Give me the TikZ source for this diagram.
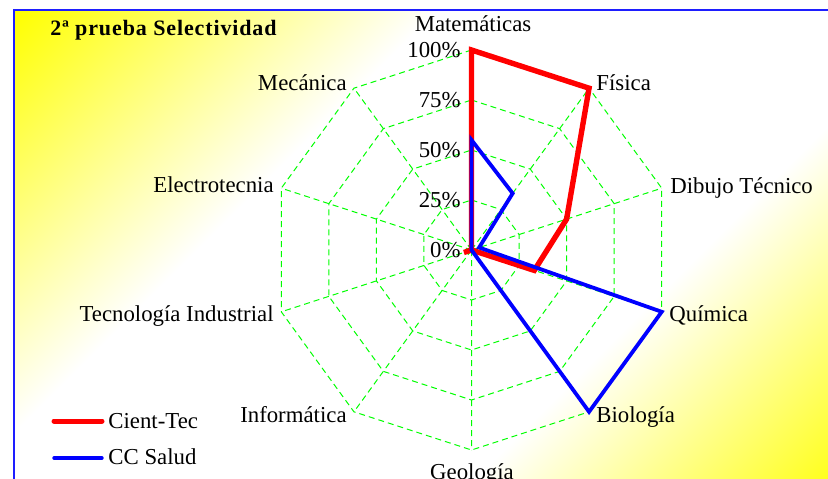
\documentclass[tikz,border=0pt]{standalone}
\usepackage{fontspec}
\setmainfont{Liberation Serif}
\newfontfamily\titlefont[LetterSpace=4]{Liberation Serif}
\usetikzlibrary{positioning}
\usetikzlibrary{calc}
\definecolor{gridgreen}{RGB}{0,255,0}
\definecolor{cienttec}{RGB}{255,0,0}
\definecolor{ccsalud}{RGB}{0,0,255}
\definecolor{frameblue}{RGB}{30,30,255}
\pgfdeclarehorizontalshading{bgdiag}{100bp}{color(0bp)=(yellow); color(14.6bp)=(yellow); color(37bp)=(white); color(64bp)=(white); color(85.4bp)=(yellow); color(100bp)=(yellow)}

\begin{document}
\begin{tikzpicture}[x=0.5pt,y=0.5pt]
\tikzset{axislabel/.style={inner sep=0pt, font=\fontsize{11.4}{13}\selectfont}}
\tikzset{gridline/.style={gridgreen, dash pattern=on 3pt off 2pt, line width=0.5pt}}
\tikzset{cientline/.style={cienttec, line width=2.7pt}}
\tikzset{saludline/.style={ccsalud, line width=1.9pt}}
\useasboundingbox (0,0) rectangle (828,478);
\clip (0,0) rectangle (828,478);
\shade[shading=bgdiag, shading angle=-45] (14,-20) rectangle (860,468);
\draw[frameblue, line width=1pt] (14,-20) -- (14,468) -- (860,468);
\coordinate (c) at (471.5,228);
\foreach \i in {0,...,9} {
  \coordinate (v\i) at ($(c)+(90-36*\i:200)$);
}
\begin{scope}[shift={(c)}]
\foreach \r in {50,100,150,200} {
  \draw[gridline] (90:\r) -- (54:\r) -- (18:\r) -- (-18:\r) -- (-54:\r) -- (-90:\r)
    -- (-126:\r) -- (-162:\r) -- (162:\r) -- (126:\r) -- cycle;
}
\end{scope}
\draw[gridline] \foreach \i in {0,...,9} {(c) -- (v\i)};
\begin{scope}[shift={(c)}]
\draw[cientline] (90:200) -- (54:200) -- (18:100) -- (-18:66) -- (-54:0) -- (-90:0)
  -- (-126:0) -- (-162:8) -- (162:0) -- (126:0) -- cycle;
\draw[saludline] (90:110) -- (54:70) -- (18:8) -- (-18:200) -- (-54:200) -- (-90:0)
  -- (-126:0) -- (-162:0) -- (162:0) -- (126:0) -- cycle;
\end{scope}
\node[axislabel, anchor=base] (mat) at (473,446) {Matemáticas};
\node[axislabel, anchor=base west] (fis) at (596,388) {Física};
\node[axislabel, anchor=base west] (dib) at (670,285) {Dibujo Técnico};
\node[axislabel, anchor=base west] (qui) at (669,157) {Química};
\node[axislabel, anchor=base west] (bio) at (596,56) {Biología};
\node[axislabel, anchor=base] (geo) at (472,-1) {Geología};
\node[axislabel, anchor=base east] (inf) at (347,56) {Informática};
\node[axislabel, anchor=base east] (tec) at (274,157) {Tecnología Industrial};
\node[axislabel, anchor=base east] (ele) at (274,286) {Electrotecnia};
\node[axislabel, anchor=base east] (mec) at (347,388) {Mecánica};
\node[axislabel, anchor=base east] (p100) at (461,421) {100\%};
\node[axislabel, anchor=base east] (p75) at (461,371) {75\%};
\node[axislabel, anchor=base east] (p50) at (461,321) {50\%};
\node[axislabel, anchor=base east] (p25) at (461,271) {25\%};
\node[axislabel, anchor=base east] (p0) at (461,221) {0\%};
\node[inner sep=0pt, anchor=base west, font=\titlefont\bfseries\fontsize{11}{13}\selectfont] (title) at (50,443) {2ª prueba Selectividad};
\node[axislabel, anchor=base west] (lgcient) at (108,50) {Cient-Tec};
\node[axislabel, anchor=base west] (lgsalud) at (108,14) {CC Salud};
\coordinate (lgcientend) at (54,57);
\coordinate (lgsaludend) at (54,20);
\draw[cientline, line width=2.5pt, line cap=round] (lgcientend) -- ($(lgcient.west|-lgcientend)+(-6,0)$);
\draw[saludline, line width=1.7pt, line cap=round] (lgsaludend) -- ($(lgsalud.west|-lgsaludend)+(-6,0)$);
\end{tikzpicture}
\end{document}
